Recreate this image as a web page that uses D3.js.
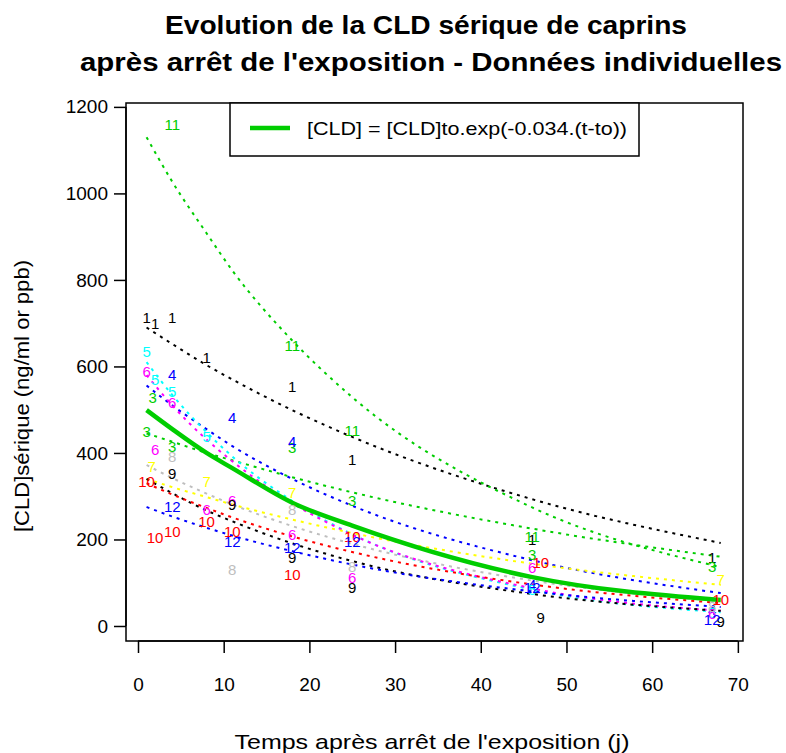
<!DOCTYPE html>
<html><head><meta charset="utf-8">
<script src="https://cdn.jsdelivr.net/npm/d3@7"></script>
<style>body{margin:0;background:#fff}svg{display:block}text{font-family:"Liberation Sans",Arial,sans-serif}</style>
</head><body><svg id="c" width="786" height="753"></svg>
<script>
// ---- data ----
const xTicks = [0,10,20,30,40,50,60,70];
const yTicks = [0,200,400,600,800,1000,1200];
const fitDays = [1,4,8,11,18,25,46,68];
const goats  = ["1","3","4","5","6","7","8","9","10","11","12"];
const colors = ["#000000","#00CD00","#0000FF","#00FFFF","#FF00FF","#FFFF00","#BEBEBE","#000000","#FF0000","#00CD00","#0000FF"];
const fit1  = [690,652,603,570,499,437,293,192];
const fit3  = [445,426,400,383,344,309,225,160];
const fit4  = [556,510,455,416,340,278,152,76];
const fit5  = [610,534,448,392,289,212,84,32];
const fit6  = [580,510,431,381,284,211,87,35];
const fit7  = [340,321,298,281,246,215,144,95];
const fit8  = [372,342,306,281,231,190,105,57];
const fit9  = [340,307,267,242,191,150,74,35];
const fit10 = [330,304,273,251,207,171,96,53];
const fit11 = [1130,1027,908,822,660,529,274,136];
const fit12 = [275,253,227,209,173,142,80,44];
const meanFit = [499,455,400,365,285,232,113,60];
const obs1  = [[1,712],[2,699],[4,712],[8,620],[18,553],[25,384],[46,199],[67,157]];
const obs3  = [[1,449],[1.7,527],[4,414],[18,411],[25,289],[46,164],[67,136]];
const obs4  = [[4,580],[11,481],[18,425],[46,95],[67,37]];
const obs5  = [[1,634],[2,569],[4,541],[8,437],[46,83],[67,30]];
const obs6  = [[1,588],[2,407],[4,515],[8,268],[11,290],[18,210],[25,111],[46,134],[67,28]];
const obs7  = [[1.6,368],[8,333],[18,307],[68,106]];
const obs8  = [[4,391],[11,129],[18,268],[25,136],[67,45]];
const obs9  = [[4,352],[11,280],[18,157],[25,88],[47,18],[68,9]];
const obs10 = [[1,333],[2,203],[4,217],[8,240],[11,217],[18,118],[25,206],[47,146],[68,60]];
const obs11 = [[4,1158],[18,647],[25,451],[46,206]];
const obs12 = [[4,275],[11,194],[18,180],[25,195],[46,88],[67,14]];
const fits = [fit1,fit3,fit4,fit5,fit6,fit7,fit8,fit9,fit10,fit11,fit12];
const obs  = [obs1,obs3,obs4,obs5,obs6,obs7,obs8,obs9,obs10,obs11,obs12];
const title1 = "Evolution de la CLD sérique de caprins";
const title2 = "après arrêt de l'exposition - Données individuelles";
const xLabel = "Temps après arrêt de l'exposition (j)";
const yLabel = "[CLD]sérique (ng/ml or ppb)";
const legendText = "[CLD] = [CLD]to.exp(-0.034.(t-to))";

// ---- layout ----
const L=126, R=743, T=103, B=641;
const svg = d3.select("#c");
const x = d3.scaleLinear().domain([-1.4,70.6]).range([L,R]);
const y = d3.scaleLinear().domain([-34.7,1209]).range([B,T]);

// titles
svg.append("text").attr("x",426).attr("y",34).attr("text-anchor","middle")
  .attr("font-size",25).attr("font-weight","bold").attr("textLength",522).attr("lengthAdjust","spacingAndGlyphs").text(title1);
svg.append("text").attr("x",431).attr("y",71).attr("text-anchor","middle")
  .attr("font-size",25).attr("font-weight","bold").attr("textLength",702).attr("lengthAdjust","spacingAndGlyphs").text(title2);

// axes
const gx = svg.append("g").attr("transform",`translate(0,${B})`)
  .call(d3.axisBottom(x).tickValues(xTicks).tickSize(12).tickPadding(30).tickFormat(d3.format("d")));
const gy = svg.append("g").attr("transform",`translate(${L},0)`)
  .call(d3.axisLeft(y).tickValues(yTicks).tickSize(12).tickPadding(6).tickFormat(d3.format("d")));
[gx,gy].forEach(g=>{
  g.select(".domain").remove();
  g.selectAll("line").attr("stroke","#000").attr("stroke-width",1.5);
  g.selectAll("text").attr("font-size",19).attr("fill","#000").attr("font-family","Liberation Sans, Arial, sans-serif");
});
gx.selectAll("text").attr("dy","0.35em").attr("y",43);
gx.append("line").attr("x1",x(0)).attr("x2",x(70)).attr("y1",0).attr("y2",0).attr("stroke","#000").attr("stroke-width",1.5);
gy.append("line").attr("y1",y(0)).attr("y2",y(1200)).attr("x1",0).attr("x2",0).attr("stroke","#000").attr("stroke-width",1.5);

svg.append("text").attr("x",432).attr("y",749).attr("text-anchor","middle").attr("font-size",21)
  .attr("textLength",395).attr("lengthAdjust","spacingAndGlyphs").text(xLabel);
svg.append("text").attr("transform",`translate(29,396) rotate(-90)`).attr("text-anchor","middle")
  .attr("font-size",20).attr("textLength",272).attr("lengthAdjust","spacingAndGlyphs").text(yLabel);

// clip
svg.append("clipPath").attr("id","pc").append("rect").attr("x",L).attr("y",T).attr("width",R-L).attr("height",B-T);
const plot = svg.append("g").attr("clip-path","url(#pc)");

const line = d3.line().x((d,i)=>x(fitDays[i])).y(d=>y(d)).curve(d3.curveMonotoneX);

// individual fitted curves
fits.forEach((f,i)=>{
  plot.append("path").attr("d",line(f)).attr("fill","none").attr("stroke",colors[i])
    .attr("stroke-width",2).attr("stroke-dasharray","3,5");
});
// mean curve
plot.append("path").attr("d",line(meanFit)).attr("fill","none").attr("stroke","#00CD00").attr("stroke-width",4.5);

// labels
obs.forEach((o,i)=>{
  plot.selectAll(null).data(o).enter().append("text")
    .attr("x",d=>x(d[0])).attr("y",d=>y(d[1])).attr("dy","0.35em")
    .attr("text-anchor","middle").attr("font-size",15).attr("fill",colors[i]).text(goats[i]);
});

// box
svg.append("rect").attr("x",L).attr("y",T).attr("width",R-L).attr("height",B-T)
  .attr("fill","none").attr("stroke","#000").attr("stroke-width",1.5);

// legend
const lg = svg.append("g");
lg.append("rect").attr("x",230).attr("y",T).attr("width",409).attr("height",53).attr("fill","#fff").attr("stroke","#000").attr("stroke-width",1.5);
lg.append("line").attr("x1",250).attr("x2",290).attr("y1",128).attr("y2",128).attr("stroke","#00CD00").attr("stroke-width",4.5);
lg.append("text").attr("x",307).attr("y",128).attr("dy","0.35em").attr("font-size",19)
  .attr("textLength",320).attr("lengthAdjust","spacingAndGlyphs").text(legendText);
</script></body></html>
